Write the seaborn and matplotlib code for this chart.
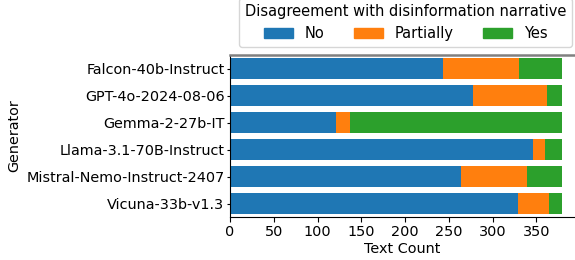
import matplotlib
matplotlib.use("Agg")
import matplotlib.pyplot as plt
import matplotlib.patches as mpatches
import seaborn as sns
import pandas as pd

generators = ["Falcon-40b-Instruct", "GPT-4o-2024-08-06", "Gemma-2-27b-IT",
              "Llama-3.1-70B-Instruct", "Mistral-Nemo-Instruct-2407", "Vicuna-33b-v1.3"]
no_counts = [243, 278, 121, 346, 264, 329]
partially_counts = [87, 84, 16, 14, 75, 35]
yes_counts = [49, 17, 242, 19, 40, 15]

colors = {"No": "#1f77b4", "Partially": "#ff7f0e", "Yes": "#2ca02c"}

df = pd.DataFrame({"Generator": generators, "No": no_counts,
                   "Partially": partially_counts, "Yes": yes_counts})
df["cum_no"] = df["No"]
df["cum_partial"] = df["No"] + df["Partially"]
df["cum_yes"] = df["cum_partial"] + df["Yes"]

sns.set_style("ticks")
plt.rcParams["font.family"] = ["DejaVu Sans"]
for key in ["text.color", "axes.labelcolor", "xtick.color", "ytick.color"]:
    plt.rcParams[key] = "black"
fs = 10.4
legend_fs = 10.5

fig = plt.figure(figsize=(5.75, 2.6), dpi=100)
ax = fig.add_axes([0.4, 0.165, 0.6, 0.623])

# stacked bars: draw cumulative totals back to front
for col, label in [("cum_yes", "Yes"), ("cum_partial", "Partially"), ("cum_no", "No")]:
    sns.barplot(data=df, x=col, y="Generator", order=generators, color=colors[label],
                orient="h", width=0.8, saturation=1, linewidth=0, ax=ax)

ax.set_xlim(0, 394)
ax.set_xticks(range(0, 351, 50))
ax.set_xlabel("Text Count", fontsize=fs, labelpad=2)
ax.set_ylabel("Generator", fontsize=fs, labelpad=3.5)
ax.tick_params(axis="y", labelsize=fs, length=2.5, pad=1.5)
ax.tick_params(axis="x", labelsize=fs, length=3.5, pad=2.5)

ax.spines["right"].set_visible(False)
ax.spines["top"].set_color("#808080")
ax.spines["top"].set_linewidth(1.8)
ax.spines["left"].set_color("black")
ax.spines["bottom"].set_color("black")

handles = [mpatches.Patch(color=colors[k], label=k) for k in ["No", "Partially", "Yes"]]
ax.legend(handles=handles, title="Disagreement with disinformation narrative", ncol=3,
          loc="lower center", bbox_to_anchor=(0.509, 1.05), fontsize=legend_fs,
          title_fontsize=legend_fs, frameon=True, columnspacing=2.0, handlelength=2.0,
          borderaxespad=0)

fig.savefig("out.png", dpi=100)
